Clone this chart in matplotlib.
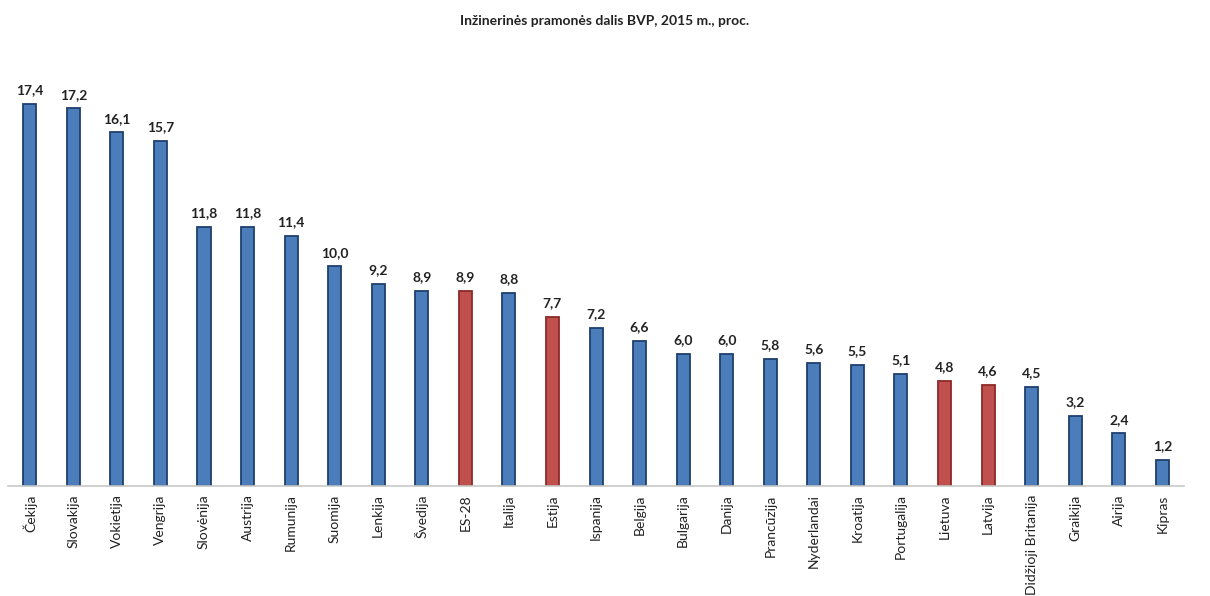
import matplotlib
matplotlib.use("Agg")
import matplotlib.pyplot as plt

plt.rcParams["font.family"] = ["Lato", "DejaVu Sans"]

countries = ["Čekija", "Slovakija", "Vokietija", "Vengrija", "Slovėnija", "Austrija",
             "Rumunija", "Suomija", "Lenkija", "Švedija", "ES-28", "Italija", "Estija",
             "Ispanija", "Belgija", "Bulgarija", "Danija", "Prancūzija", "Nyderlandai",
             "Kroatija", "Portugalija", "Lietuva", "Latvija", "Didžioji Britanija",
             "Graikija", "Airija", "Kipras"]
values = [17.4, 17.2, 16.1, 15.7, 11.8, 11.8, 11.4, 10.0, 9.2, 8.9, 8.9, 8.8, 7.7,
          7.2, 6.6, 6.0, 6.0, 5.8, 5.6, 5.5, 5.1, 4.8, 4.6, 4.5, 3.2, 2.4, 1.2]
highlight = ["ES-28", "Estija", "Lietuva", "Latvija"]

fill = ["#C0504D" if c in highlight else "#4A7DBA" for c in countries]
edge = ["#8C2A27" if c in highlight else "#1F3F6E" for c in countries]

fig = plt.figure(figsize=(12.1, 5.96), dpi=100)
ax = fig.add_axes([0.0066, 0.1846, 0.972, 0.7148])

x = range(len(countries))
bars = ax.bar(x, values, width=0.3, color=fill, edgecolor=edge, linewidth=1.3)

for xi, v in zip(x, values):
    ax.text(xi, v + 0.35, f"{v:.1f}".replace(".", ","), ha="center", va="bottom",
            fontsize=10, fontweight="bold", color="#222222")

ax.set_xlim(-0.5, len(countries) - 0.5)
ax.set_ylim(0, 19.4)
ax.set_xticks(list(x))
ax.set_xticklabels(countries, rotation=90, fontsize=10, color="#222222")
ax.tick_params(axis="x", length=0, pad=6)
ax.set_yticks([])
for side in ["top", "left", "right"]:
    ax.spines[side].set_visible(False)
ax.spines["bottom"].set_color("#C8C8C8")
ax.spines["bottom"].set_linewidth(1.2)

fig.text(0.5, 0.965, "Inžinerinės pramonės dalis BVP, 2015 m., proc.", ha="center",
         va="center", fontsize=10, fontweight="bold", color="#222222")

fig.savefig("out.png", dpi=100)
